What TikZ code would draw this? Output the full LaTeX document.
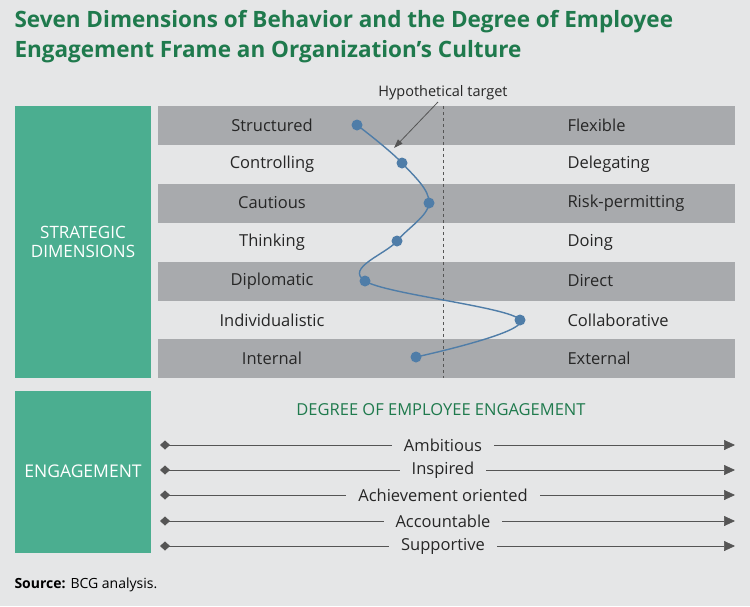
\documentclass[tikz,border=0pt]{standalone}
\usepackage{fontspec}
\setmainfont{Open Sans}
\usetikzlibrary{arrows.meta}
\definecolor{bg}{HTML}{E5E6E7}
\definecolor{ttl}{HTML}{1F7A4D}
\definecolor{grn}{HTML}{4BAE90}
\definecolor{band}{HTML}{A8AAAD}
\definecolor{crv}{HTML}{4F7DA8}
\definecolor{ln}{HTML}{555555}
\begin{document}
\begin{tikzpicture}[x=1pt,y=-1pt,
  lbl/.style={font=\fontsize{16.5}{19}\selectfont,text=black!85},
  gbox/.style={fill=grn,draw=none},
  pt/.style={circle,fill=crv,inner sep=0,minimum size=11pt},
  eng/.style={font=\fontsize{16.5}{19}\selectfont,text=black!85,fill=bg,inner xsep=12pt,inner ysep=1pt},
  engline/.style={draw=ln,line width=0.7pt,{Diamond[length=10pt,width=9pt,fill=ln]}-{Triangle[length=11pt,width=10pt,fill=ln]}}]
\fill[bg] (0,0) rectangle (750,606);
\useasboundingbox (0,0) rectangle (750,606);
\node[anchor=west,font=\bfseries\fontsize{22.5}{26}\selectfont,text=ttl] (t1) at (11,22) {Seven Dimensions of Behavior and the Degree of Employee};
\node[anchor=west,font=\bfseries\fontsize{22.5}{26}\selectfont,text=ttl] (t2) at (11,52) {Engagement Frame an Organization’s Culture};
\fill[gbox] (15,106) rectangle (151,378);
\node[align=center,text=white,font=\fontsize{17}{19}\selectfont] (sd) at (83,242) {STRATEGIC\\DIMENSIONS};
\fill[gbox] (15,391) rectangle (151,553);
\node[text=white,font=\fontsize{17.5}{19}\selectfont] (en) at (83,471) {ENGAGEMENT};
\foreach \y in {106,184,262,339} \fill[band] (158,\y) rectangle (735,\y+39);
\draw[ln,dashed,line width=0.8pt] (443,106) -- (443,378);
\foreach \i/\l/\r/\y in {1/Structured/Flexible/125,2/Controlling/Delegating/164,3/Cautious/Risk-permitting/203,4/Thinking/Doing/242,5/Diplomatic/Direct/281,6/Individualistic/Collaborative/320,7/Internal/External/358}{
  \node[lbl] (L\i) at (272,\y) {\l};
  \node[lbl,anchor=west] (R\i) at (564,\y) {\r};
}
\coordinate (p1) at (357,125);\coordinate (p2) at (402,163);\coordinate (p3) at (429,203);
\coordinate (p4) at (397,241);\coordinate (p5) at (365,281);\coordinate (p6) at (520,320);\coordinate (p7) at (416,357);
\draw[crv,line width=1.4pt] plot[smooth,tension=0.6] coordinates{(357,125)(402,163)(429,203)(397,241)(365,281)(520,320)(416,357)};
\foreach \i in {1,...,7} \node[pt] (q\i) at (p\i) {};
\node[font=\fontsize{14.5}{16}\selectfont,text=black!85] (ht) at (443,93) {Hypothetical target};
\draw[ln,line width=0.8pt,-{Triangle[length=9pt,width=6pt]}] (438,102) -- (394,148);
\node[font=\fontsize{16.5}{19}\selectfont,text=ttl] (dg) at (441,410) {DEGREE OF EMPLOYEE ENGAGEMENT};
\foreach \i/\t/\y in {1/Ambitious/445,2/Inspired/470,3/Achievement oriented/495,4/Accountable/521,5/Supportive/546}{
  \coordinate (a\i) at (160,\y); \coordinate (b\i) at (735,\y);
  \draw[engline] (a\i) -- (b\i);
  \node[eng] (e\i) at (443,\y) {\t};
}
\node[anchor=west,font=\fontsize{14}{16}\selectfont] (src) at (11,585) {\textbf{Source:} BCG analysis.};
\end{tikzpicture}
\end{document}
